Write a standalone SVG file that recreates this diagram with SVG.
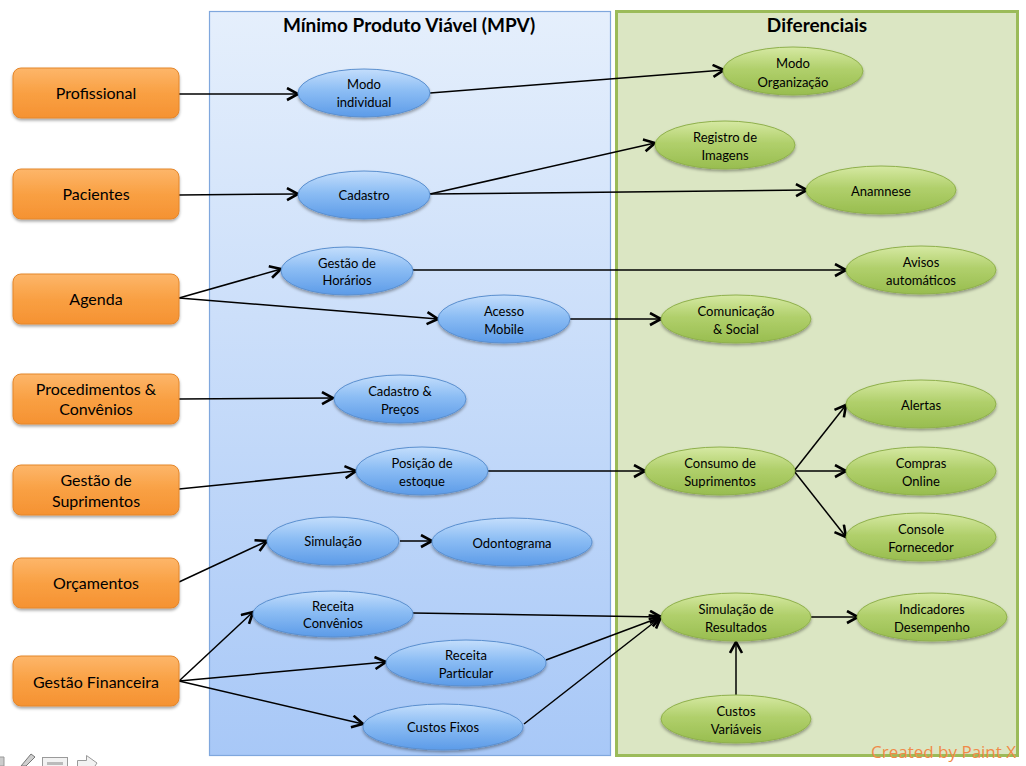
<svg xmlns="http://www.w3.org/2000/svg" width="1026" height="766" viewBox="0 0 1026 766">
<defs>
<linearGradient id="gPanelBlue" x1="0" y1="0" x2="0" y2="1"><stop offset="0" stop-color="#e5effc"/><stop offset="1" stop-color="#a8c8f7"/></linearGradient>
<linearGradient id="gOrange" x1="0" y1="0" x2="0" y2="1"><stop offset="0" stop-color="#fdb66a"/><stop offset="0.5" stop-color="#f9a043"/><stop offset="1" stop-color="#f59232"/></linearGradient>
<linearGradient id="gBlue" x1="0" y1="0" x2="0" y2="1"><stop offset="0" stop-color="#c4defc"/><stop offset="0.45" stop-color="#8cbdf4"/><stop offset="1" stop-color="#5c9be8"/></linearGradient>
<linearGradient id="gGreen" x1="0" y1="0" x2="0" y2="1"><stop offset="0" stop-color="#d6e9a3"/><stop offset="0.45" stop-color="#b1d06c"/><stop offset="1" stop-color="#98bd4f"/></linearGradient>
<filter id="sh" x="-20%" y="-30%" width="140%" height="170%"><feDropShadow dx="0" dy="2" stdDeviation="1.5" flood-color="#000" flood-opacity="0.35"/></filter>
<marker id="arr" markerWidth="16" markerHeight="16" refX="13" refY="7" orient="auto" markerUnits="userSpaceOnUse"><path d="M2,1 L13,7 L2,13" fill="none" stroke="#000" stroke-width="2.6" stroke-linejoin="miter"/></marker>
<style>
.panelB{fill:url(#gPanelBlue);stroke:#7fa7dd;stroke-width:1.2}
.panelG{fill:#dbe6c3;stroke:#9bbb59;stroke-width:3}
.title{font-family:Lato,"Liberation Sans",sans-serif;font-weight:bold;font-size:19px;fill:#000;text-anchor:middle}
.box{fill:url(#gOrange);stroke:#e4862b;stroke-width:1;filter:url(#sh)}
.bt{font-family:Lato,"Liberation Sans",sans-serif;font-size:16px;fill:#000;text-anchor:middle}
.eb{fill:url(#gBlue);stroke:#5a8fcf;stroke-width:1;filter:url(#sh)}
.eg{fill:url(#gGreen);stroke:#8fb04c;stroke-width:1;filter:url(#sh)}
.et{font-family:Lato,"Liberation Sans",sans-serif;font-size:13px;fill:#000;text-anchor:middle}
.c{fill:none;stroke:#000;stroke-width:1.5;marker-end:url(#arr)}
.wm{font-family:"Open Sans","Liberation Sans",sans-serif;font-size:17px;fill:#f08a48}
</style>
</defs>
<rect width="1026" height="766" fill="#fff"/>
<g id="panel-mpv"><rect class="panelB" x="209.5" y="11.5" width="401" height="744"/><text class="title" x="409" y="32">Mínimo Produto Viável (MPV)</text></g>
<g id="panel-diferenciais"><rect class="panelG" x="616.5" y="11.5" width="401" height="744"/><text class="title" x="817" y="32">Diferenciais</text></g>

<g id="connectors">
<path class="c" d="M179,94 L298,94"/>
<path class="c" d="M430,93 L724,70"/>
<path class="c" d="M179,195 L298,194"/>
<path class="c" d="M430,194 L655,143"/>
<path class="c" d="M430,194 L807,190"/>
<path class="c" d="M179,298 L281,269"/>
<path class="c" d="M179,298 L438,319"/>
<path class="c" d="M413,270 L846,270"/>
<path class="c" d="M570,319 L661,319"/>
<path class="c" d="M179,399 L333,398"/>
<path class="c" d="M179,489 L356,471"/>
<path class="c" d="M488,471 L645,471"/>
<path class="c" d="M794,471 L846,405"/>
<path class="c" d="M794,471 L846,471"/>
<path class="c" d="M794,471 L846,537"/>
<path class="c" d="M179,582 L267,541"/>
<path class="c" d="M400,541 L432,541"/>
<path class="c" d="M179,681 L253,612"/>
<path class="c" d="M179,681 L386,662"/>
<path class="c" d="M179,681 L363,724"/>
<path class="c" d="M413,613 L661,617"/>
<path class="c" d="M546,660 L661,617"/>
<path class="c" d="M524,724 L661,617"/>
<path class="c" d="M811,617 L858,617"/>
<path class="c" d="M736,695 L736,642"/>
</g>

<g id="n-profissional"><rect class="box" x="13" y="68" width="166" height="50" rx="8"/><text class="bt" x="96" y="99">Profissional</text></g>
<g id="n-pacientes"><rect class="box" x="13" y="169" width="166" height="50" rx="8"/><text class="bt" x="96" y="200">Pacientes</text></g>
<g id="n-agenda"><rect class="box" x="13" y="274" width="166" height="50" rx="8"/><text class="bt" x="96" y="305">Agenda</text></g>
<g id="n-procedimentos"><rect class="box" x="13" y="374" width="166" height="50" rx="8"/><text class="bt" x="96" y="395">Procedimentos &amp;</text><text class="bt" x="96" y="415">Convênios</text></g>
<g id="n-suprimentos"><rect class="box" x="13" y="465" width="166" height="50" rx="8"/><text class="bt" x="96" y="486">Gestão de</text><text class="bt" x="96" y="507">Suprimentos</text></g>
<g id="n-orcamentos"><rect class="box" x="13" y="558" width="166" height="50" rx="8"/><text class="bt" x="96" y="589">Orçamentos</text></g>
<g id="n-financeira"><rect class="box" x="13" y="656" width="166" height="50" rx="8"/><text class="bt" x="96" y="688">Gestão Financeira</text></g>

<g id="n-modo-individual"><ellipse class="eb" cx="364" cy="93" rx="66" ry="24"/><text class="et" x="364" y="89">Modo</text><text class="et" x="364" y="107">individual</text></g>
<g id="n-cadastro"><ellipse class="eb" cx="364" cy="195" rx="66" ry="24"/><text class="et" x="364" y="200">Cadastro</text></g>
<g id="n-gestao-horarios"><ellipse class="eb" cx="347" cy="271" rx="66" ry="24"/><text class="et" x="347" y="268">Gestão de</text><text class="et" x="347" y="285">Horários</text></g>
<g id="n-acesso-mobile"><ellipse class="eb" cx="504" cy="319" rx="66" ry="24"/><text class="et" x="504" y="316">Acesso</text><text class="et" x="504" y="334">Mobile</text></g>
<g id="n-cadastro-precos"><ellipse class="eb" cx="400" cy="399" rx="66" ry="24"/><text class="et" x="400" y="396">Cadastro &amp;</text><text class="et" x="400" y="414">Preços</text></g>
<g id="n-posicao-estoque"><ellipse class="eb" cx="422" cy="471" rx="66" ry="24"/><text class="et" x="422" y="468">Posição de</text><text class="et" x="422" y="486">estoque</text></g>
<g id="n-simulacao"><ellipse class="eb" cx="333" cy="541" rx="66" ry="24"/><text class="et" x="333" y="546">Simulação</text></g>
<g id="n-odontograma"><ellipse class="eb" cx="512" cy="542" rx="80" ry="24"/><text class="et" x="512" y="548">Odontograma</text></g>
<g id="n-receita-convenios"><ellipse class="eb" cx="333" cy="614" rx="80" ry="23"/><text class="et" x="333" y="611">Receita</text><text class="et" x="333" y="628">Convênios</text></g>
<g id="n-receita-particular"><ellipse class="eb" cx="466" cy="663" rx="80" ry="23"/><text class="et" x="466" y="660">Receita</text><text class="et" x="466" y="678">Particular</text></g>
<g id="n-custos-fixos"><ellipse class="eb" cx="443" cy="727" rx="80" ry="23"/><text class="et" x="443" y="732">Custos Fixos</text></g>

<g id="n-modo-organizacao"><ellipse class="eg" cx="793" cy="71" rx="70" ry="24"/><text class="et" x="793" y="68">Modo</text><text class="et" x="793" y="87">Organização</text></g>
<g id="n-registro-imagens"><ellipse class="eg" cx="725" cy="145" rx="70" ry="24"/><text class="et" x="725" y="142">Registro de</text><text class="et" x="725" y="160">Imagens</text></g>
<g id="n-anamnese"><ellipse class="eg" cx="881" cy="190" rx="75" ry="24"/><text class="et" x="881" y="196">Anamnese</text></g>
<g id="n-avisos"><ellipse class="eg" cx="921" cy="270" rx="75" ry="24"/><text class="et" x="921" y="267">Avisos</text><text class="et" x="921" y="285">automáticos</text></g>
<g id="n-comunicacao"><ellipse class="eg" cx="736" cy="319" rx="75" ry="24"/><text class="et" x="736" y="316">Comunicação</text><text class="et" x="736" y="334">&amp; Social</text></g>
<g id="n-alertas"><ellipse class="eg" cx="921" cy="404" rx="75" ry="24"/><text class="et" x="921" y="410">Alertas</text></g>
<g id="n-consumo"><ellipse class="eg" cx="720" cy="471" rx="75" ry="24"/><text class="et" x="720" y="468">Consumo de</text><text class="et" x="720" y="486">Suprimentos</text></g>
<g id="n-compras"><ellipse class="eg" cx="921" cy="471" rx="75" ry="24"/><text class="et" x="921" y="468">Compras</text><text class="et" x="921" y="486">Online</text></g>
<g id="n-console"><ellipse class="eg" cx="921" cy="537" rx="75" ry="24"/><text class="et" x="921" y="534">Console</text><text class="et" x="921" y="552">Fornecedor</text></g>
<g id="n-simulacao-resultados"><ellipse class="eg" cx="736" cy="617" rx="75" ry="24"/><text class="et" x="736" y="614">Simulação de</text><text class="et" x="736" y="632">Resultados</text></g>
<g id="n-indicadores"><ellipse class="eg" cx="932" cy="617" rx="75" ry="24"/><text class="et" x="932" y="614">Indicadores</text><text class="et" x="932" y="632">Desempenho</text></g>
<g id="n-custos-variaveis"><ellipse class="eg" cx="736" cy="719" rx="75" ry="24"/><text class="et" x="736" y="716">Custos</text><text class="et" x="736" y="734">Variáveis</text></g>

<text class="wm" x="871" y="758">Created by Paint X</text>

<g id="toolbar" fill="#e8e8e8" stroke="#9a9a9a" stroke-width="1">
<path d="M21,766 L31,754 L35,757 L26,766 Z" fill="#cfcfcf" stroke="#777"/>
<rect x="42.5" y="757.5" width="25" height="12" fill="#f2f2f2"/>
<rect x="47" y="762" width="16" height="3" fill="#bbb" stroke="none"/>
<path d="M77.5,766 L77.5,760.5 L86.5,760.5 L86.5,755.5 L97,763 L95,766" fill="#f2f2f2"/>
<path d="M0,757 L4,757 L4,766 L0,766" fill="#ccc" stroke="#999"/>
</g>
</svg>
